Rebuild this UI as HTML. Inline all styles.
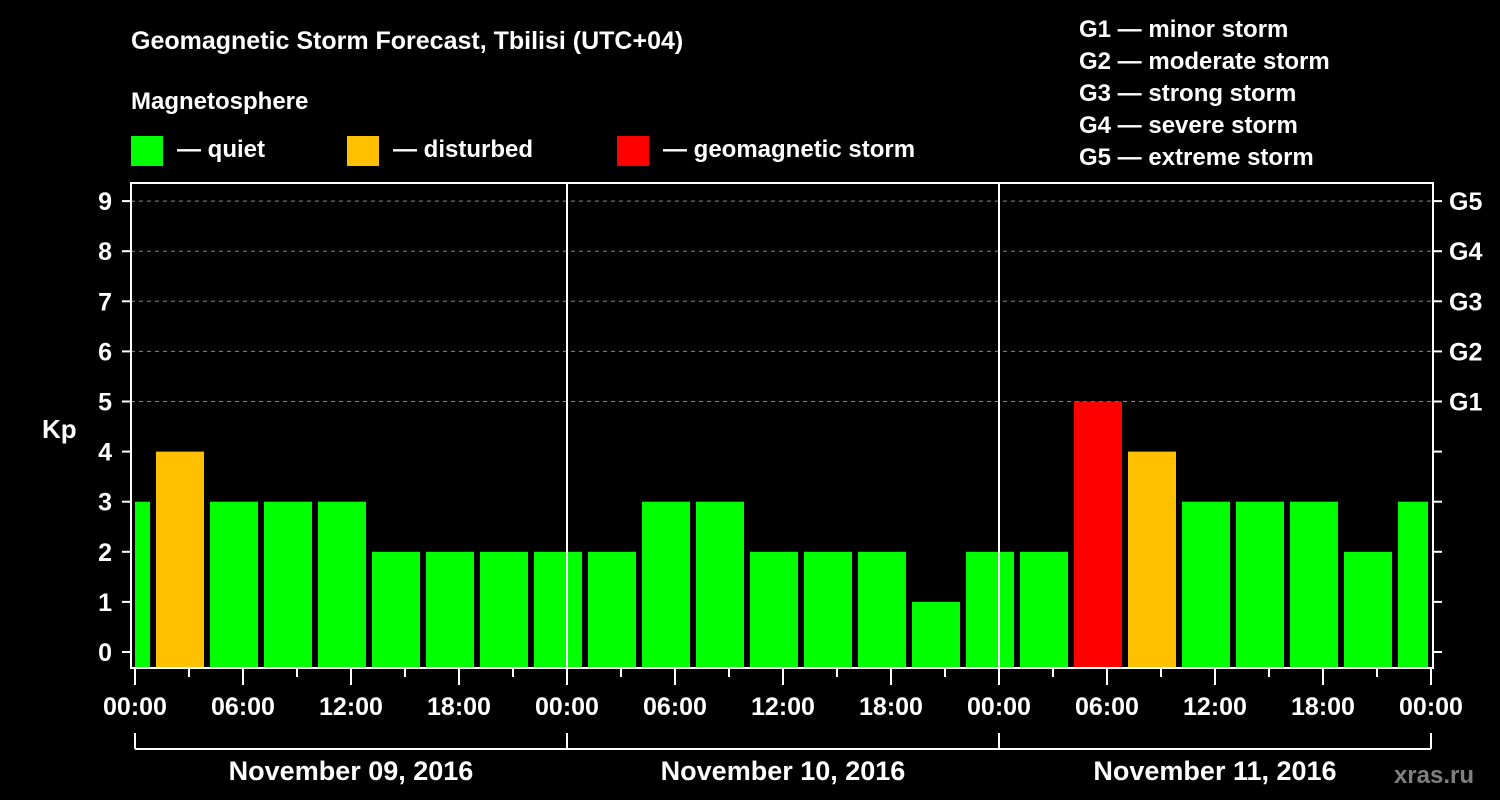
<!DOCTYPE html>
<html><head><meta charset="utf-8"><style>
body{margin:0;background:#000;}
svg{display:block;font-family:"Liberation Sans",Arial,sans-serif;font-weight:bold;}
</style></head><body>
<svg id="chart" width="1500" height="800" viewBox="0 0 1500 800">
<rect width="1500" height="800" fill="#000"/>
<text x="131" y="49" fill="#fff" font-size="25">Geomagnetic Storm Forecast, Tbilisi (UTC+04)</text>
<text x="131" y="109" fill="#fff" font-size="24">Magnetosphere</text>
<g><rect x="131" y="136" width="32" height="30" fill="#00ff00"/><text x="177" y="157" fill="#fff" font-size="24">— quiet</text></g>
<g><rect x="347" y="136" width="32" height="30" fill="#ffc000"/><text x="393" y="157" fill="#fff" font-size="24">— disturbed</text></g>
<g><rect x="617" y="136" width="32" height="30" fill="#ff0000"/><text x="663" y="157" fill="#fff" font-size="24">— geomagnetic storm</text></g>
<g fill="#fff" font-size="24">
<text x="1079" y="37">G1 — minor storm</text>
<text x="1079" y="69">G2 — moderate storm</text>
<text x="1079" y="101">G3 — strong storm</text>
<text x="1079" y="133">G4 — severe storm</text>
<text x="1079" y="165">G5 — extreme storm</text>
</g>
<text x="42" y="438" fill="#fff" font-size="26">Kp</text>
<text x="1474" y="783" fill="#808080" font-size="24" text-anchor="end">xras.ru</text>
<g id="plot"></g>
</svg>
<script>
const kpValues=[3,4,3,3,3,2,2,2,2,2,3,3,2,2,2,1,2,2,5,4,3,3,3,2,3];
const yTicks=[0,1,2,3,4,5,6,7,8,9];
const gLabels=["","","","","","G1","G2","G3","G4","G5"];
const xTickLabels=["00:00","06:00","12:00","18:00","00:00","06:00","12:00","18:00","00:00","06:00","12:00","18:00","00:00"];
const dayLabels=["November 09, 2016","November 10, 2016","November 11, 2016"];
const startHour=-2, stepHours=3;
const NS="http://www.w3.org/2000/svg";
const g=document.getElementById('plot');
const L=131,R=1433,T=183,B=668,X0=135,X1=1431;
const x=h=>X0+(X1-X0)*h/72;
const y=k=>652-50.1*k;
function el(tag,attrs,parent){const e=document.createElementNS(NS,tag);for(const k in attrs)e.setAttribute(k,attrs[k]);(parent||g).appendChild(e);return e;}
// gridlines
yTicks.forEach(k=>{if(k>=5){const l=el('line',{x1:L,x2:R,y1:y(k),y2:y(k),stroke:'#888','stroke-dasharray':'4,4','stroke-width':1});

}});
// bars
kpValues.forEach((v,i)=>{
 let h0=startHour+i*stepHours,h1=h0+stepHours;
 let xa=Math.max(x(h0)+3,x(0)),xb=Math.min(x(h1)-3,x(72)-3);
 const c=v>=5?'#ff0000':(v>=4?'#ffc000':'#00ff00');
 const r=el('rect',{x:xa,y:y(v),width:xb-xa,height:B-y(v),fill:c});
 
 
});
// day separators
[24,48].forEach(h=>{const l=el('line',{x1:x(h),x2:x(h),y1:T,y2:B,stroke:'#fff','stroke-width':2});

});
// frame
const fr=el('rect',{x:L,y:T,width:R-L,height:B-T,fill:'none',stroke:'#fff','stroke-width':2});


// y ticks
yTicks.forEach(k=>{
 el('line',{x1:122,x2:L,y1:y(k),y2:y(k),stroke:'#fff','stroke-width':2});
 el('line',{x1:R,x2:1442,y1:y(k),y2:y(k),stroke:'#fff','stroke-width':2});
 const t=el('text',{x:112,y:y(k)+9,fill:'#fff','font-size':25,'text-anchor':'end'});t.textContent=k;
 
 
 if(gLabels[k]){const t2=el('text',{x:1449,y:y(k)+9,fill:'#fff','font-size':25});t2.textContent=gLabels[k];
 
 }
});
// x ticks
for(let h=0;h<=72;h+=3){const maj=h%6===0;el('line',{x1:x(h),x2:x(h),y1:B,y2:B+(maj?17:9),stroke:'#fff','stroke-width':2});}
xTickLabels.forEach((s,i)=>{const t=el('text',{x:x(i*6),y:715,fill:'#fff','font-size':25,'text-anchor':'middle'});t.textContent=s;
 
 });
// day bracket
el('line',{x1:X0,x2:X1,y1:749,y2:749,stroke:'#fff','stroke-width':2});
[0,24,48,72].forEach(h=>el('line',{x1:x(h),x2:x(h),y1:733,y2:749,stroke:'#fff','stroke-width':2}));
dayLabels.forEach((s,i)=>{const t=el('text',{x:x(i*24+12),y:780,fill:'#fff','font-size':27,'text-anchor':'middle'});t.textContent=s;
 
 });
</script>
</body></html>
